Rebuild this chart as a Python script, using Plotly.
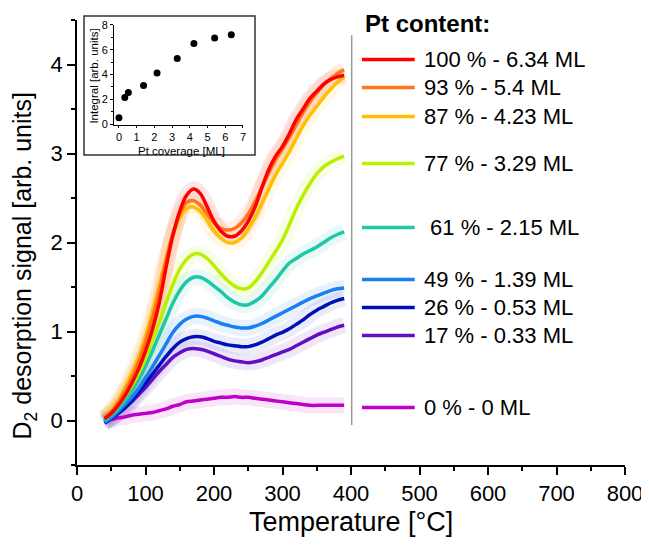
import plotly.graph_objects as go

# ---------------- data ----------------
temperature = [40, 50, 60, 70, 80, 90, 100, 110, 120, 130, 140, 150, 160, 170, 180, 190,
               200, 210, 220, 230, 240, 250, 260, 270, 280, 290, 300, 310, 320, 330, 340,
               350, 360, 370, 380, 390]

pt100 = [0.02, 0.08, 0.17, 0.28, 0.42, 0.58, 0.78, 1.02, 1.32, 1.72, 2.08, 2.35, 2.53, 2.60, 2.55, 2.40,
         2.24, 2.13, 2.07, 2.07, 2.13, 2.24, 2.40, 2.62, 2.82, 2.97, 3.08, 3.22, 3.38, 3.50, 3.62,
         3.70, 3.78, 3.83, 3.86, 3.88]
pt93 = [0.03, 0.10, 0.20, 0.33, 0.48, 0.66, 0.88, 1.14, 1.45, 1.80, 2.10, 2.32, 2.45, 2.47, 2.42, 2.32,
        2.22, 2.16, 2.14, 2.16, 2.22, 2.32, 2.46, 2.62, 2.78, 2.93, 3.05, 3.18, 3.32, 3.46, 3.58,
        3.68, 3.77, 3.84, 3.90, 3.94]
pt87 = [0.04, 0.12, 0.23, 0.37, 0.53, 0.72, 0.95, 1.22, 1.52, 1.83, 2.08, 2.27, 2.38, 2.40, 2.35, 2.25,
        2.13, 2.05, 2.00, 2.00, 2.05, 2.15, 2.28, 2.44, 2.60, 2.76, 2.89, 3.02, 3.17, 3.31, 3.43,
        3.53, 3.63, 3.72, 3.80, 3.86]
pt77 = [0.03, 0.09, 0.17, 0.27, 0.39, 0.53, 0.70, 0.90, 1.10, 1.32, 1.53, 1.70, 1.81, 1.87, 1.87, 1.82,
        1.74, 1.65, 1.57, 1.51, 1.48, 1.49, 1.56, 1.66, 1.78, 1.90, 2.03, 2.20, 2.38, 2.53, 2.66,
        2.77, 2.85, 2.90, 2.94, 2.97]
pt61 = [0.00, 0.06, 0.13, 0.22, 0.33, 0.46, 0.61, 0.78, 0.96, 1.14, 1.32, 1.46, 1.56, 1.61, 1.61, 1.57,
        1.51, 1.45, 1.38, 1.33, 1.30, 1.30, 1.34, 1.40, 1.49, 1.58, 1.68, 1.77, 1.82, 1.87, 1.91,
        1.95, 2.00, 2.05, 2.09, 2.12]
pt49 = [-0.02, 0.03, 0.10, 0.18, 0.26, 0.36, 0.48, 0.60, 0.73, 0.86, 0.99, 1.08, 1.14, 1.17, 1.17, 1.15,
        1.12, 1.09, 1.07, 1.05, 1.04, 1.04, 1.06, 1.09, 1.13, 1.17, 1.21, 1.25, 1.29, 1.33, 1.37,
        1.40, 1.43, 1.46, 1.48, 1.49]
pt26 = [-0.03, 0.02, 0.08, 0.15, 0.23, 0.32, 0.42, 0.52, 0.62, 0.72, 0.81, 0.88, 0.92, 0.94, 0.94, 0.92,
        0.89, 0.87, 0.85, 0.84, 0.83, 0.83, 0.85, 0.88, 0.92, 0.96, 0.99, 1.03, 1.08, 1.13, 1.19,
        1.24, 1.28, 1.32, 1.35, 1.37]
pt17 = [-0.02, 0.03, 0.08, 0.14, 0.21, 0.29, 0.37, 0.46, 0.55, 0.63, 0.71, 0.76, 0.80, 0.81, 0.80, 0.78,
        0.75, 0.72, 0.69, 0.67, 0.66, 0.65, 0.66, 0.68, 0.71, 0.74, 0.77, 0.80, 0.84, 0.88, 0.92,
        0.96, 0.99, 1.02, 1.05, 1.07]
pt0 = [0.00, 0.01, 0.03, 0.04, 0.06, 0.07, 0.08, 0.09, 0.11, 0.13, 0.16, 0.18, 0.21, 0.22, 0.23, 0.24,
       0.25, 0.26, 0.26, 0.27, 0.26, 0.26, 0.25, 0.24, 0.23, 0.22, 0.21, 0.20, 0.19, 0.18, 0.17,
       0.17, 0.17, 0.17, 0.17, 0.17]

series_labels = ["100 % - 6.34 ML", "93 % - 5.4 ML", "87 % - 4.23 ML", "77 % - 3.29 ML",
                 "\u00a061 % - 2.15 ML", "49 % - 1.39 ML", "26 % - 0.53 ML", "17 % - 0.33 ML",
                 "0 % - 0 ML"]
series_values = [pt100, pt93, pt87, pt77, pt61, pt49, pt26, pt17, pt0]
series_colors = ["#ff0000", "#ff7518", "#ffc000", "#b8f000", "#1cc8a8", "#1a7ff0",
                 "#0010b8", "#6010c0", "#c000c8"]
halo_colors = ["rgba(255,0,0,0.10)", "rgba(255,117,24,0.10)", "rgba(255,192,0,0.10)",
               "rgba(184,240,0,0.10)", "rgba(28,200,168,0.10)", "rgba(26,127,240,0.10)",
               "rgba(0,16,184,0.08)", "rgba(96,16,192,0.10)", "rgba(192,0,200,0.10)"]
legend_y = [4.056, 3.742, 3.416, 2.888, 2.169, 1.584, 1.270, 0.955, 0.146]

# inset data
coverage = [0, 0.33, 0.53, 1.39, 2.15, 3.29, 4.23, 5.4, 6.34]
integral = [0.5, 2.15, 2.55, 3.1, 4.12, 5.28, 6.5, 6.95, 7.2]

FONT = "Liberation Sans, Arial, sans-serif"

fig = go.Figure()

# faint wash around curves (same data, wide translucent line)
for vals, hc in zip(series_values, halo_colors):
    fig.add_trace(go.Scatter(x=temperature, y=vals, mode="lines",
                             line=dict(color=hc, width=16, shape="spline"),
                             showlegend=False, hoverinfo="skip"))

# draw lowest first so red is on top
for lab, vals, col in reversed(list(zip(series_labels, series_values, series_colors))):
    fig.add_trace(go.Scatter(x=temperature, y=vals, mode="lines", name=lab,
                             line=dict(color=col, width=3.5, shape="spline"),
                             showlegend=False))

# inset
fig.add_trace(go.Scatter(x=coverage, y=integral, mode="markers",
                         marker=dict(color="black", size=7),
                         xaxis="x2", yaxis="y2", showlegend=False))

shapes = []
annotations = []

# separator line
shapes.append(dict(type="line", xref="x", yref="y", x0=401, x1=401, y0=-0.05, y1=4.33,
                   line=dict(color="#999999", width=1.5)))

# manual legend
for lab, col, ly in zip(series_labels, series_colors, legend_y):
    shapes.append(dict(type="line", xref="x", yref="y", x0=416, x1=493, y0=ly, y1=ly,
                       line=dict(color=col, width=3.5)))
    annotations.append(dict(x=503, y=ly, xref="x", yref="y", text=lab, showarrow=False,
                            xanchor="left", yanchor="middle",
                            font=dict(family=FONT, size=22, color="black")))
annotations.append(dict(x=417, y=4.46, xref="x", yref="y", text="<b>Pt content:</b>",
                        showarrow=False, xanchor="left", yanchor="middle",
                        font=dict(family=FONT, size=24, color="black")))

# inset frame
shapes.append(dict(type="rect", xref="paper", yref="paper", x0=0.0128, x1=0.3248,
                   y0=0.6966, y1=1.009, line=dict(color="#333333", width=1.5),
                   fillcolor="white", layer="below"))

# axis titles
annotations.append(dict(x=0.5, y=-0.128, xref="paper", yref="paper",
                        text="Temperature [°C]", showarrow=False,
                        xanchor="center", yanchor="middle",
                        font=dict(family=FONT, size=27, color="black")))
annotations.append(dict(x=-0.0960, y=0.447, xref="paper", yref="paper",
                        text="D<sub>2</sub> desorption signal [arb. units]", showarrow=False,
                        textangle=-90, xanchor="center", yanchor="middle",
                        font=dict(family=FONT, size=25, color="black")))
annotations.append(dict(x=0.19, y=0.706, xref="paper", yref="paper",
                        text="Pt coverage [ML]", showarrow=False,
                        xanchor="center", yanchor="middle",
                        font=dict(family=FONT, size=11.5, color="black")))
annotations.append(dict(x=0.0320, y=0.874, xref="paper", yref="paper",
                        text="Integral [arb. units]", showarrow=False, textangle=-90,
                        xanchor="center", yanchor="middle",
                        font=dict(family=FONT, size=11.5, color="black")))

# the page places the figure 8 px from the top-left corner; size/margins compensate
fig.update_layout(
    template="none",
    width=641, height=539, autosize=False,
    margin=dict(l=69, r=24, t=12, b=82, autoexpand=False),
    plot_bgcolor="white", paper_bgcolor="white",
    font=dict(family=FONT, color="black"),
    showlegend=False,
    shapes=shapes, annotations=annotations,
    xaxis=dict(range=[0, 800], dtick=100, tick0=0, showline=True, linecolor="black",
               linewidth=1.5, ticks="outside", ticklen=8, tickwidth=1.5, tickcolor="black",
               minor=dict(dtick=50, ticks="outside", ticklen=4, tickwidth=1.5, tickcolor="black"),
               showgrid=False, zeroline=False, automargin=False,
               tickfont=dict(size=22, family=FONT)),
    yaxis=dict(range=[-0.5, 4.5], dtick=1, tick0=0, showline=True, linecolor="black",
               linewidth=1.5, ticks="outside", ticklen=8, tickwidth=1.5, tickcolor="black",
               minor=dict(dtick=0.5, tick0=0, ticks="outside", ticklen=4, tickwidth=1.5,
                          tickcolor="black"),
               showgrid=False, zeroline=False, automargin=False,
               tickfont=dict(size=22, family=FONT)),
    xaxis2=dict(domain=[0.0675, 0.3029], anchor="y2", range=[-0.28, 7], dtick=1, tick0=0,
                showline=True, linecolor="black", linewidth=1, ticks="outside", ticklen=2,
                tickcolor="black", showgrid=False, zeroline=False, automargin=False,
                ticklabelstandoff=0,
                tickfont=dict(size=11, family=FONT)),
    yaxis2=dict(domain=[0.764, 0.989], anchor="x2", range=[-0.08, 8], dtick=2, tick0=0,
                showline=True, linecolor="black", linewidth=1, ticks="outside", ticklen=3,
                tickcolor="black",
                minor=dict(dtick=1, ticks="outside", ticklen=2, tickcolor="black"),
                showgrid=False, zeroline=False, automargin=False,
                tickfont=dict(size=11, family=FONT)),
)

fig.write_html("out.html")
